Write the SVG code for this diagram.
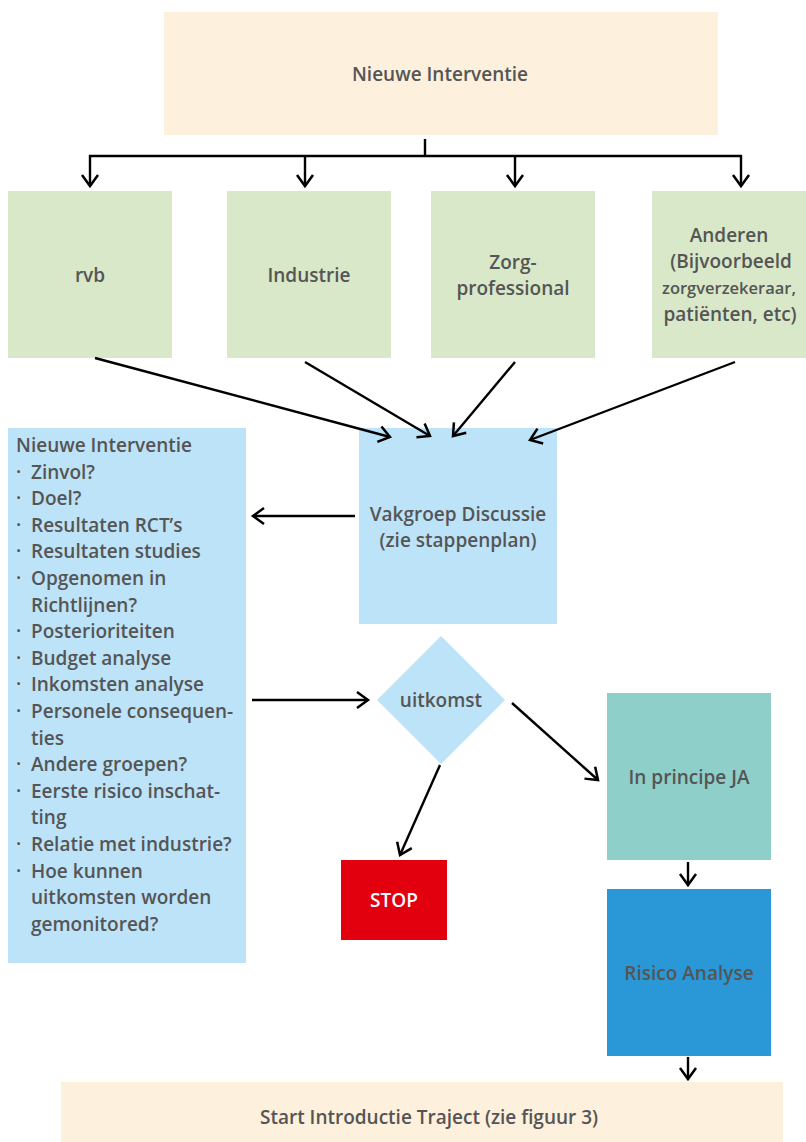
<svg xmlns="http://www.w3.org/2000/svg" width="806" height="1142" viewBox="0 0 806 1142">
<defs>
<marker id="arr" markerWidth="20" markerHeight="20" refX="16" refY="10" orient="auto" markerUnits="userSpaceOnUse">
<path d="M5,2 L16,10 L5,18" fill="none" stroke="#000" stroke-width="2.5"/>
</marker>
<style>
text{font-family:"Open Sans","Noto Sans","Liberation Sans",sans-serif;font-weight:600;font-size:19px;fill:#555}
.c{text-anchor:middle}
.ln{fill:none;stroke:#000;stroke-width:2.4}
</style>
</defs>
<rect width="806" height="1142" fill="#fff"/>
<g id="top"><rect x="164" y="12" width="554" height="123" fill="#fdf0dc"/><text class="c" x="440" y="81">Nieuwe Interventie</text></g>
<g id="rvb"><rect x="8" y="191" width="164" height="167" fill="#d8e8c8"/><text class="c" x="90" y="282">rvb</text></g>
<g id="industrie"><rect x="227" y="191" width="164" height="167" fill="#d8e8c8"/><text class="c" x="309" y="282">Industrie</text></g>
<g id="zorg"><rect x="431" y="191" width="164" height="167" fill="#d8e8c8"/><text class="c" x="513" y="269">Zorg-</text><text class="c" x="513" y="295">professional</text></g>
<g id="anderen"><rect x="652" y="191" width="154" height="167" fill="#d8e8c8"/><text class="c" x="729" y="242">Anderen</text><text class="c" x="731" y="268">(Bijvoorbeeld</text><text class="c" x="729" y="294" style="font-size:16.5px">zorgverzekeraar,</text><text class="c" x="730" y="321">patiënten, etc)</text></g>
<g id="vakgroep"><rect x="359" y="428" width="198" height="196" fill="#bde3f8"/><text class="c" x="458" y="521">Vakgroep Discussie</text><text class="c" x="458" y="547">(zie stappenplan)</text></g>
<g id="list"><rect x="8" y="428" width="238" height="535" fill="#bde3f8"/>
<text x="16" y="452">Nieuwe Interventie</text>
<text x="16" y="478.6">· </text><text x="31" y="478.6">Zinvol?</text>
<text x="16" y="505.2">· </text><text x="31" y="505.2">Doel?</text>
<text x="16" y="531.8">· </text><text x="31" y="531.8">Resultaten RCT’s</text>
<text x="16" y="558.4">· </text><text x="31" y="558.4">Resultaten studies</text>
<text x="16" y="585">· </text><text x="31" y="585">Opgenomen in</text>
<text x="31" y="611.6">Richtlijnen?</text>
<text x="16" y="638.2">· </text><text x="31" y="638.2">Posterioriteiten</text>
<text x="16" y="664.8">· </text><text x="31" y="664.8">Budget analyse</text>
<text x="16" y="691.4">· </text><text x="31" y="691.4">Inkomsten analyse</text>
<text x="16" y="718">· </text><text x="31" y="718">Personele consequen-</text>
<text x="31" y="744.6">ties</text>
<text x="16" y="771.2">· </text><text x="31" y="771.2">Andere groepen?</text>
<text x="16" y="797.8">· </text><text x="31" y="797.8">Eerste risico inschat-</text>
<text x="31" y="824.4">ting</text>
<text x="16" y="851">· </text><text x="31" y="851">Relatie met industrie?</text>
<text x="16" y="877.6">· </text><text x="31" y="877.6">Hoe kunnen</text>
<text x="31" y="904.2">uitkomsten worden</text>
<text x="31" y="930.8">gemonitored?</text>
</g>
<g id="uitkomst"><polygon points="441,636 505,700 441,764 377,700" fill="#bde3f8"/><text class="c" x="441" y="707">uitkomst</text></g>
<g id="stop"><rect x="341" y="860" width="106" height="80" fill="#e2000f"/><text class="c" x="394" y="907" style="fill:#fff">STOP</text></g>
<g id="ja"><rect x="607" y="693" width="164" height="167" fill="#8ecfc9"/><text class="c" x="689" y="784">In principe JA</text></g>
<g id="risico"><rect x="607" y="889" width="164" height="167" fill="#2a98d6"/><text class="c" x="689" y="980">Risico Analyse</text></g>
<g id="start"><rect x="61" y="1082" width="722" height="60" fill="#fdf0dc"/><text class="c" x="429" y="1124">Start Introductie Traject (zie figuur 3)</text></g>
<g id="connectors">
<path class="ln" d="M425,139 V156 M89,156 H742"/>
<path class="ln" d="M90,155 V186" marker-end="url(#arr)"/>
<path class="ln" d="M305,155 V186" marker-end="url(#arr)"/>
<path class="ln" d="M515,155 V186" marker-end="url(#arr)"/>
<path class="ln" d="M741,155 V186" marker-end="url(#arr)"/>
<path class="ln" d="M95,358 L390,437" marker-end="url(#arr)"/>
<path class="ln" d="M305,362 L430,436" marker-end="url(#arr)"/>
<path class="ln" d="M515,362 L453,436" marker-end="url(#arr)"/>
<path class="ln" d="M735,362 L530,440" marker-end="url(#arr)"/>
<path class="ln" d="M355,516 L253,516" marker-end="url(#arr)"/>
<path class="ln" d="M252,700 L368,700" marker-end="url(#arr)"/>
<path class="ln" d="M512,703 L598,780" marker-end="url(#arr)"/>
<path class="ln" d="M440,765 L400,855" marker-end="url(#arr)"/>
<path class="ln" d="M688,862 V885" marker-end="url(#arr)"/>
<path class="ln" d="M688,1057 V1079" marker-end="url(#arr)"/>
</g>
</svg>
